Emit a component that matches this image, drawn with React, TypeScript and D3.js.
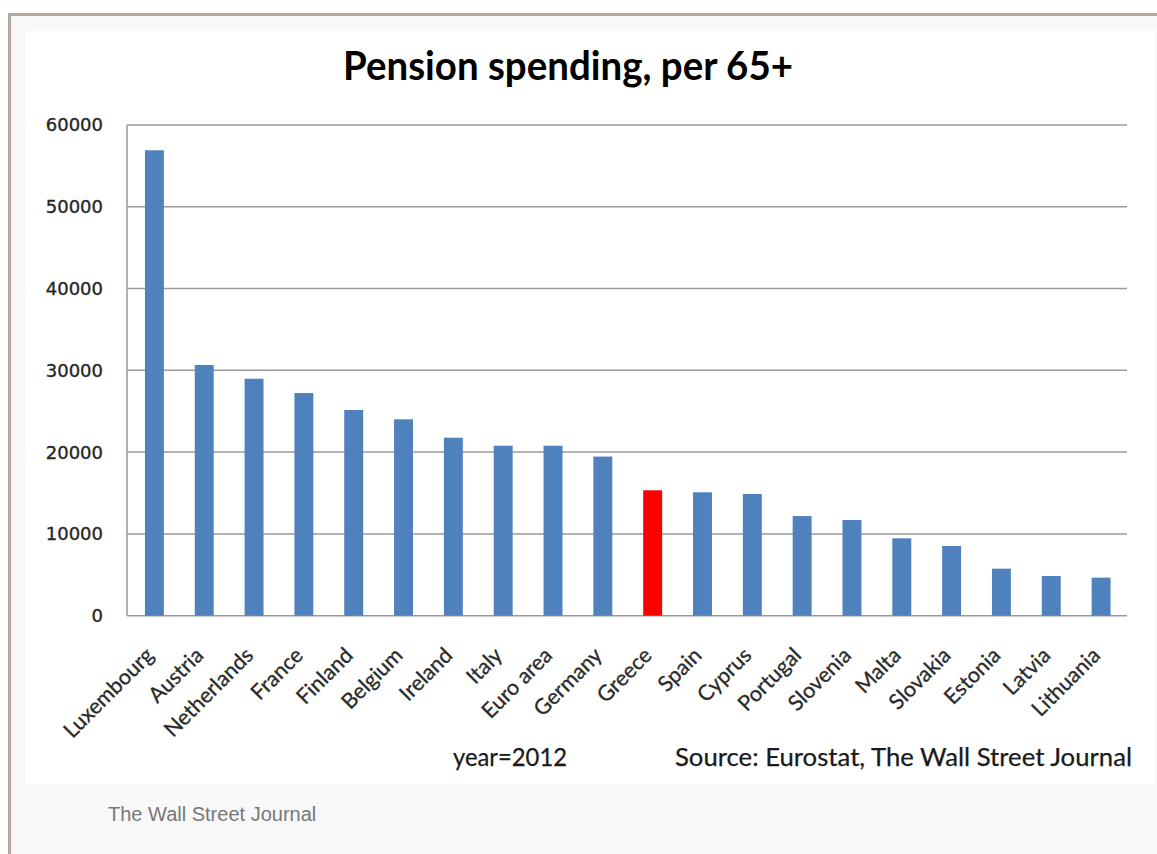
import React from "react";
import * as d3 from "d3";

const countries = ["Luxembourg","Austria","Netherlands","France","Finland","Belgium","Ireland","Italy","Euro area","Germany","Greece","Spain","Cyprus","Portugal","Slovenia","Malta","Slovakia","Estonia","Latvia","Lithuania"];
const spending = [56900,30650,28970,27220,25150,24010,21760,20780,20780,19450,15330,15090,14880,12180,11700,9460,8520,5750,4850,4650];
const highlighted = ["Greece"];
const yTicks = [0,10000,20000,30000,40000,50000,60000];

const W = 1157, H = 854;
const plotLeft = 127, plotRight = 1127, plotTop = 124.9, plotBottom = 615.7;

export default function App() {
  const x = d3.scaleBand<string>().domain(countries).range([129.5, 1126]).paddingInner(0.62).paddingOuter(0.31);
  const y = d3.scaleLinear().domain([0, 60000]).range([plotBottom, plotTop]);
  const calibri = "Lato, 'Open Sans', sans-serif";
  return (
    <svg width={W} height={H} style={{ position: "absolute", left: 0, top: 0 }}>
      <rect x={0} y={0} width={W} height={H} fill="#ffffff" />
      <rect x={9.5} y={14.5} width={W + 10} height={H + 10} fill="#f8f8f8" stroke="#b3a99e" strokeWidth={3} />
      <rect x={26} y={31} width={1129} height={753} fill="#ffffff" />
      <text x={568} y={80} textAnchor="middle" fontFamily={calibri} fontWeight={700} fontSize={40} fill="#000" textLength={450} lengthAdjust="spacingAndGlyphs">Pension spending, per 65+</text>
      {yTicks.map(t => (
        <g key={t}>
          <line x1={plotLeft} x2={plotRight} y1={y(t)} y2={y(t)} stroke="#9a9a9a" strokeWidth={1.5} />
          <text x={103} y={y(t)} dy="0.36em" textAnchor="end" fontFamily="'DejaVu Sans', Verdana, sans-serif" fontSize={18} fill="#262626" stroke="#262626" strokeWidth={0.35}>{t}</text>
        </g>
      ))}
      <line x1={plotLeft} x2={plotLeft} y1={plotTop} y2={plotBottom} stroke="#9a9a9a" strokeWidth={1.5} />
      {countries.map((c, i) => (
        <rect key={c} x={x(c)} y={y(spending[i])} width={x.bandwidth()} height={plotBottom - y(spending[i])} fill={highlighted.includes(c) ? "#ff0000" : "#4f81bd"} />
      ))}
      {countries.map(c => {
        const cx = (x(c) as number) + x.bandwidth() / 2 + 0.5;
        const cy = plotBottom + 41;
        return (
          <text key={c} x={cx} y={cy} transform={`rotate(-45 ${cx} ${cy})`} textAnchor="end" fontFamily={calibri} fontSize={21.5} fill="#2a2a2a" stroke="#2a2a2a" strokeWidth={0.3}>{c}</text>
        );
      })}
      <text x={453} y={766} fontFamily={calibri} fontSize={25} fill="#1a1a1a" stroke="#1a1a1a" strokeWidth={0.25} textLength={114} lengthAdjust="spacingAndGlyphs">year=2012</text>
      <text x={675} y={766} fontFamily={calibri} fontSize={25} fill="#1a1a1a" stroke="#1a1a1a" strokeWidth={0.25} textLength={457} lengthAdjust="spacingAndGlyphs">Source: Eurostat, The Wall Street Journal</text>
      <text x={108} y={821} fontFamily="'Liberation Sans', Arial, sans-serif" fontSize={20} fill="#777">The Wall Street Journal</text>
    </svg>
  );
}
